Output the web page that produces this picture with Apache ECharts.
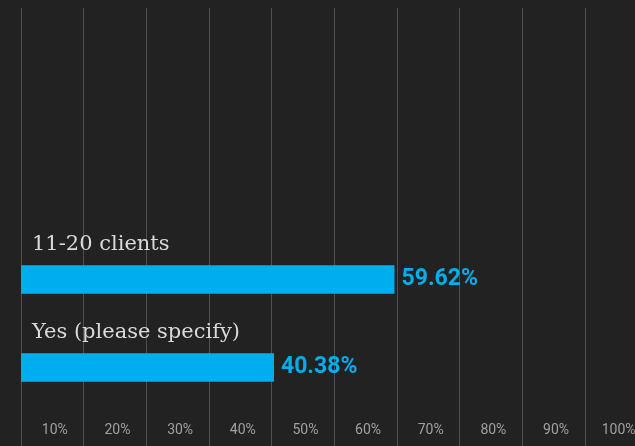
<!DOCTYPE html>
<html>
<head>
<meta charset="utf-8">
<script src="https://cdn.jsdelivr.net/npm/echarts@6/dist/echarts.min.js"></script>
<style>
  html, body { margin: 0; padding: 0; background: #222222; }
  #chart { width: 635px; height: 446px; }
</style>
</head>
<body>
<div id="chart"></div>
<script>
// Survey answers and their share of respondents (percent)
const categories = ['11-20 clients', 'Yes (please specify)'];
const shares = [59.62, 40.38];
// Scale labels shown in the middle of each 10% band
const tickLabels = ['10%', '20%', '30%', '40%', '50%', '60%', '70%', '80%', '90%', '100%'];

const chart = echarts.init(document.getElementById('chart'), null, { renderer: 'canvas' });

chart.setOption({
  backgroundColor: '#222222',
  animation: false,
  grid: [
    // full-height grid carrying the vertical guide lines and the scale labels
    { left: 21, width: 626.5, top: 8, bottom: 0, outerBoundsMode: 'none', containLabel: false },
    // grid holding the bars
    { left: 21, width: 626.5, top: 235.5, bottom: 34.5, outerBoundsMode: 'none', containLabel: false }
  ],
  xAxis: [
    {
      gridIndex: 0, type: 'value', min: 0, max: 100, interval: 10,
      axisLine: { show: false }, axisTick: { show: false }, axisLabel: { show: false },
      splitLine: { show: true, lineStyle: { color: '#4f4f4f', width: 1 } }
    },
    {
      gridIndex: 0, type: 'category', data: tickLabels, boundaryGap: true, position: 'bottom',
      axisLine: { show: false }, axisTick: { show: false }, splitLine: { show: false },
      axisLabel: {
        inside: true, margin: 9, interval: 0,
        formatter: v => '{t|' + v + '}',
        rich: {
          t: {
            padding: [0, 0, 0, 5],
            color: '#a0a0a0', fontSize: 14,
            fontFamily: 'Roboto, "DejaVu Sans", sans-serif'
          }
        }
      }
    },
    {
      gridIndex: 1, type: 'value', min: 0, max: 100,
      axisLine: { show: false }, axisTick: { show: false }, axisLabel: { show: false },
      splitLine: { show: false }
    }
  ],
  yAxis: [
    {
      gridIndex: 0, type: 'value', show: false
    },
    {
      gridIndex: 1, type: 'category', data: categories, inverse: true, position: 'left', z: 5,
      axisLine: { show: false }, axisTick: { show: false }, splitLine: { show: false },
      axisLabel: {
        show: true, interval: 0, inside: true, margin: 11, align: 'left', verticalAlign: 'middle',
        // category name sits above its bar
        formatter: v => '{name|' + v + '}',
        rich: {
          name: {
            padding: [0, 0, 70, 0],
            color: '#dadada', fontSize: 21,
            fontFamily: '"DejaVu Serif", serif'
          }
        }
      }
    }
  ],
  series: [
    {
      type: 'bar',
      xAxisIndex: 2, yAxisIndex: 1,
      data: shares,
      barWidth: 28.5,
      itemStyle: { color: '#00AEEF' },
      label: {
        show: true, position: 'right', distance: 7,
        color: '#00AEEF', fontSize: 23, fontWeight: 'bold',
        fontFamily: 'Roboto, "DejaVu Sans", sans-serif',
        formatter: p => p.value.toFixed(2) + '%'
      }
    }
  ]
});
</script>
</body>
</html>
